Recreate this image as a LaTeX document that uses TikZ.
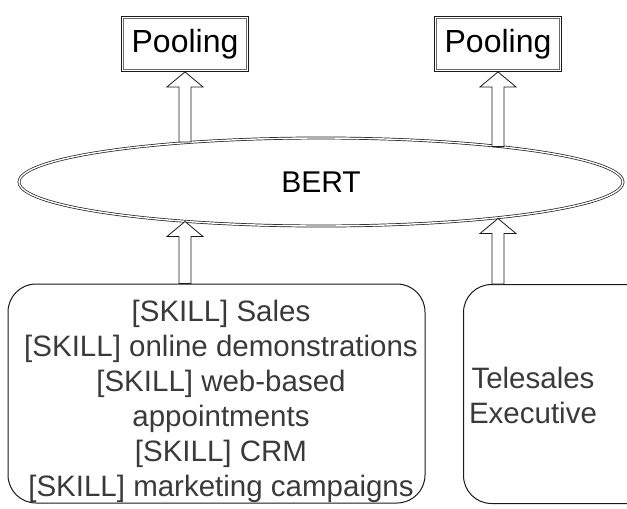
\documentclass[tikz,border=0pt]{standalone}
\usepackage{fontspec}
\setmainfont{Liberation Sans}
\usepackage{xcolor}
\definecolor{ink}{HTML}{1A1A1A}
\definecolor{greytext}{HTML}{3A3A3A}
\usepackage{tikz}
\usetikzlibrary{calc,positioning,shapes.geometric}
\tikzset{
  every picture/.style={line width=0.8pt},
  poolbox/.style={draw=ink, line width=0.8pt, minimum width=127pt, minimum height=55pt, inner sep=0pt, font=\fontsize{32}{36}\selectfont},
  poolinner/.style={draw=ink!65, line width=0.7pt},
  encoder/.style={ellipse, draw=ink, double=white, double distance=1.4pt, line width=0.7pt, minimum width=604pt, minimum height=88pt, inner sep=0pt, font=\fontsize{30}{34}\selectfont},
  inputbox/.style={draw=ink, rounded corners=28pt, line width=1pt, inner sep=0pt},
  inputtext/.style={text=greytext, align=center, font=\fontsize{29.5}{35}\selectfont},
  blockarrow/.style={draw=ink, fill=white, line width=0.8pt, line join=miter,
    to path={let \p1=(\tikztostart), \p2=(\tikztotarget) in
      (\x1-6pt,\y1) -- (\x1-6pt,\y2-15pt) -- (\x1-18pt,\y2-15pt) -- (\x2,\y2)
      -- (\x1+18pt,\y2-15pt) -- (\x1+6pt,\y2-15pt) -- (\x1+6pt,\y1) -- cycle}},
}

\begin{document}
\begin{tikzpicture}[x=1pt, y=-1pt]
  \clip (0,0) rectangle (627,509);
  \node[poolbox] (poolA) at (185,44) {Pooling};
  \node[poolbox] (poolB) at (498,44) {Pooling};
  \draw[poolinner] ([shift={(2.2pt,2.2pt)}]poolA.south west) rectangle ([shift={(-2.2pt,-2.2pt)}]poolA.north east);
  \draw[poolinner] ([shift={(2.2pt,2.2pt)}]poolB.south west) rectangle ([shift={(-2.2pt,-2.2pt)}]poolB.north east);
  \node[encoder] (bert) at (321,182) {BERT};
  \node[inputbox, minimum width=417pt, minimum height=219pt] (skills) at (216.5,393.5) {};
  \node[inputtext] (skilltext) at (221,401.5)
    {[SKILL] Sales\\ {[SKILL]} online demonstrations\\ {[SKILL]} web-based\\ appointments\\ {[SKILL]} CRM\\ {[SKILL]} marketing campaigns};
  \node[inputbox, minimum width=220pt, minimum height=219pt, anchor=north west] (title) at (463,284) {};
  \node[inputtext] (titletext) at (533,395) {Telesales\\ Executive};
  % arrows into and out of the encoder
  \draw[blockarrow] (skills.north -| poolA) to (bert.196.1 -| poolA);
  \draw[blockarrow] (title.north -| poolB) to (bert.348.6 -| poolB);
  \draw[blockarrow] (bert.163.9 -| poolA) to (poolA.south);
  \draw[blockarrow] (bert.11.4 -| poolB) to (poolB.south);
\end{tikzpicture}
\end{document}
